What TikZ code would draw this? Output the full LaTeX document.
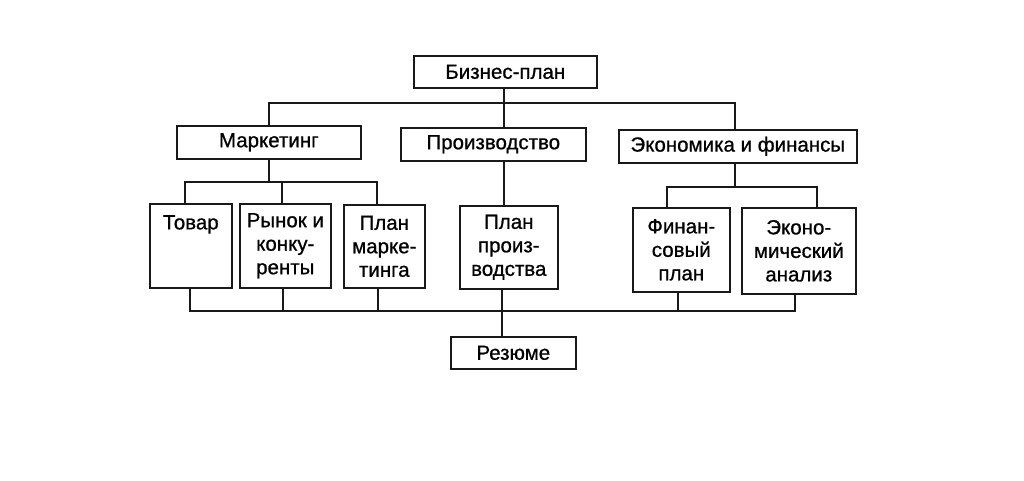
\documentclass[tikz,border=0pt]{standalone}
\usepackage{fontspec}
\setmainfont{Liberation Sans}[FakeBold=0.8]
\begin{document}
\begin{tikzpicture}[x=1pt,y=-1pt,
  box/.style={draw=black!90, line width=1.6pt, anchor=north west, inner sep=0pt,
    align=center, font=\fontsize{20.5}{23.5}\selectfont},
  conn/.style={draw=black!90, line width=1.5pt}]
\useasboundingbox[fill=white] (0,0) rectangle (1024,481);
% boxes: (x1,y1) and size
\node[box, minimum width=183pt, minimum height=32pt] (biz) at (413,55) {Бизнес-план};
\node[box, minimum width=184pt, minimum height=33pt] (mark) at (176,125) {Маркетинг};
\node[box, minimum width=185pt, minimum height=33pt] (prod) at (400,127) {Производство};
\node[box, minimum width=238pt, minimum height=33pt] (econ) at (618,129) {Экономика и финансы};
\node[box, minimum width=82pt, minimum height=84pt] (tovar) at (149,203) {Товар\\~\\~};
\node[box, minimum width=91pt, minimum height=84pt] (rynok) at (239,203) {Рынок и\\конку-\\ренты};
\node[box, minimum width=81pt, minimum height=83pt] (planm) at (343,204) {План\\марке-\\тинга};
\node[box, minimum width=98pt, minimum height=83pt] (planp) at (459,205) {План\\произ-\\водства};
\node[box, minimum width=97pt, minimum height=84pt] (fin) at (632,207) {Финан-\\совый\\план};
\node[box, minimum width=114pt, minimum height=86pt] (ean) at (741,207) {Эконо-\\мический\\анализ};
\node[box, minimum width=125pt, minimum height=32pt] (rez) at (450,336) {Резюме};
% junction coordinates
\coordinate (tb) at (504,103);
\coordinate (ex) at (735,103);
\coordinate (mL) at (185,182);
\coordinate (mM) at (282,182);
\coordinate (mR) at (377,182);
\coordinate (eL) at (667,187);
\coordinate (eR) at (817,187);
\coordinate (bL) at (190,311);
\coordinate (bR) at (795,311);
\coordinate (bRy) at (283,311);
\coordinate (bPm) at (378,311);
\coordinate (bp) at (502,311);
\coordinate (bF) at (678,311);
% top level
\draw[conn] (biz.south -| tb) -- (prod.north -| tb);
\draw[conn] (mark.north) -- (mark.north |- tb) -- (ex) -- (econ.north -| ex);
% marketing
\draw[conn] (mark.south) -- (mark.south |- mL);
\draw[conn] (tovar.north -| mL) -- (mL) -- (mR) -- (planm.north -| mR);
\draw[conn] (mM) -- (rynok.north -| mM);
% production
\draw[conn] (prod.south -| tb) -- (planp.north -| tb);
% economics
\draw[conn] (econ.south -| ex) -- (ex |- eL);
\draw[conn] (fin.north -| eL) -- (eL) -- (eR) -- (ean.north -| eR);
% bottom bus
\draw[conn] (tovar.south -| bL) -- (bL) -- (bR) -- (ean.south -| bR);
\draw[conn] (rynok.south -| bRy) -- (bRy);
\draw[conn] (planm.south -| bPm) -- (bPm);
\draw[conn] (fin.south -| bF) -- (bF);
\draw[conn] (planp.south -| bp) -- (rez.north -| bp);
\end{tikzpicture}
\end{document}
